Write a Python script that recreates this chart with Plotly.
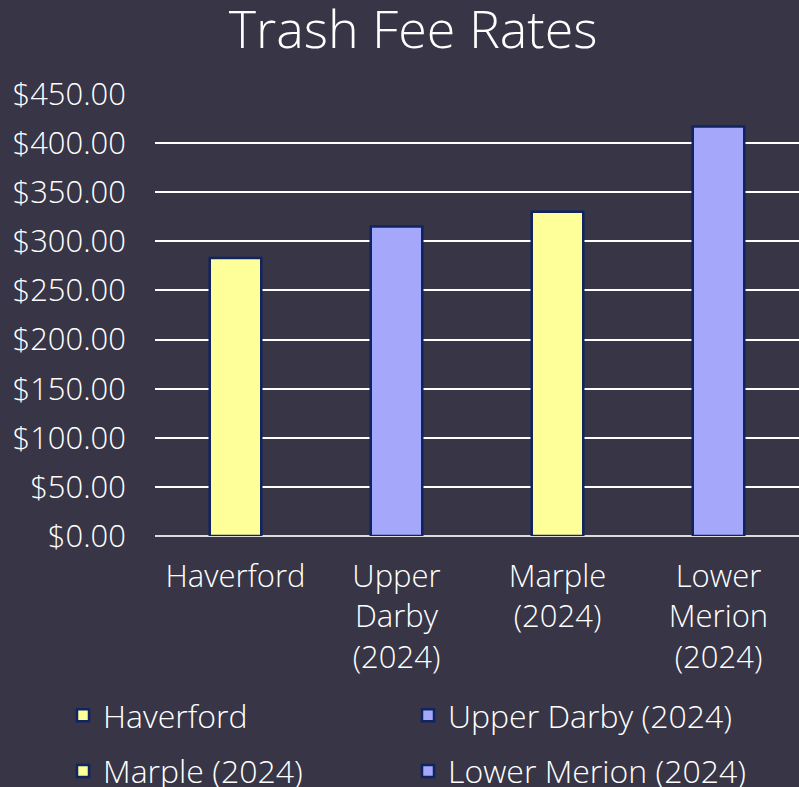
import plotly.graph_objects as go

categories = ["Haverford", "Upper Darby (2024)", "Marple (2024)", "Lower Merion (2024)"]
tick_labels = ["Haverford", "Upper<br>Darby<br>(2024)", "Marple<br>(2024)", "Lower<br>Merion<br>(2024)"]
values = [283, 315, 330, 417]
colors = ["#FFFF99", "#A5A8FA", "#FFFF99", "#A5A8FA"]
legend_slots = ["legend", "legend2", "legend", "legend2"]

BG = "#373546"
FONT = "Open Sans, Lato, sans-serif"
FS = 32
TFS = 31

fig = go.Figure()
for cat, lab, val, col, lg in zip(categories, tick_labels, values, colors, legend_slots):
    fig.add_trace(go.Bar(
        x=[lab], y=[val], name=cat, marker_color=col, legend=lg, legendgroup=cat,
        marker_line=dict(color="#0F2460", width=2.5), width=0.32,
    ))

leg_common = dict(orientation="v", yref="container", xref="container", yanchor="top", xanchor="left",
                  tracegroupgap=11, font=dict(size=FS, color="white", family=FONT, weight=300),
                  bgcolor="rgba(0,0,0,0)")

fig.update_layout(
    width=799, height=787,
    paper_bgcolor=BG, plot_bgcolor=BG,
    barmode="overlay",
    font=dict(family=FONT, color="white", size=FS, weight=300),
    title=dict(text="Trash Fee Rates", x=0.517, xanchor="center", y=0.962, yanchor="middle",
               font=dict(size=52, color="white", family=FONT, weight=300)),
    margin=dict(l=155, r=0, t=94, b=251, autoexpand=False),
    xaxis=dict(categoryorder="array", categoryarray=tick_labels, showgrid=False, automargin=False,
               tickangle=0, ticklabelstandoff=19,
               tickfont=dict(size=TFS, color="white", family=FONT, weight=300)),
    yaxis=dict(range=[0, 450], dtick=50, tickprefix="$", tickformat=",.2f", automargin=False,
               gridcolor="white", gridwidth=2, zeroline=True, zerolinecolor="#DDDDDD",
               zerolinewidth=2, ticklabelstandoff=28,
               tickfont=dict(size=TFS, color="white", family=FONT, weight=300)),
    legend=dict(x=63 / 799, y=1 - 688 / 787, **leg_common),
    legend2=dict(x=408 / 799, y=1 - 688 / 787, **leg_common),
)

fig.write_html("out.html")
